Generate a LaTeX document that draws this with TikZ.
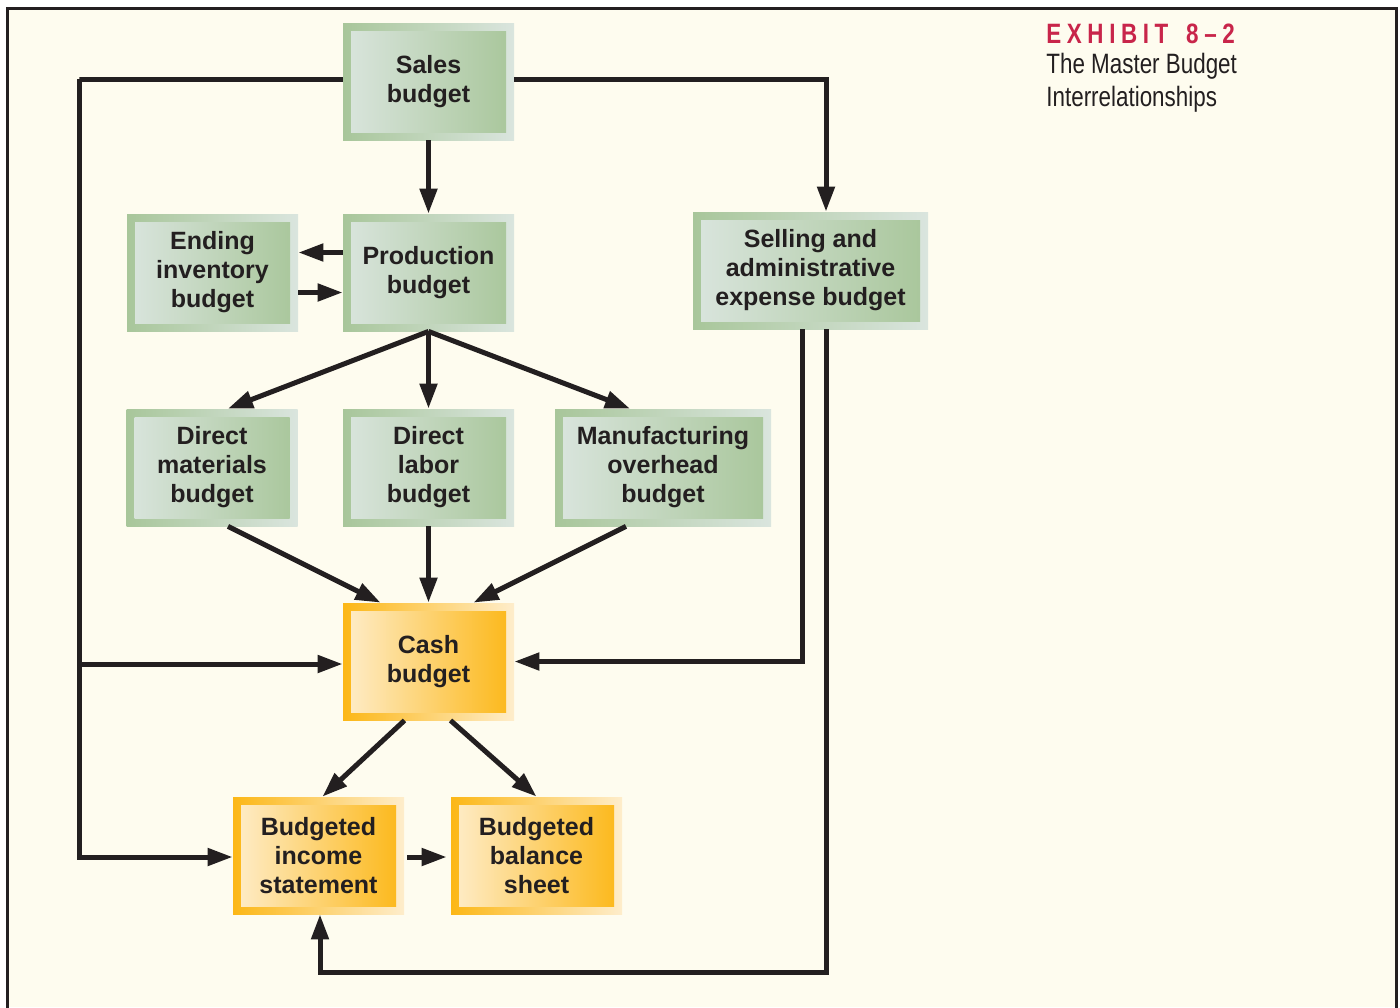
\documentclass[tikz,border=0pt]{standalone}
\usepackage{fontspec}
\setmainfont{Liberation Sans}
\newfontfamily\exfont[FakeStretch=0.8]{Liberation Sans}
\usepackage{xcolor}
\usetikzlibrary{arrows.meta,positioning,calc}

\definecolor{ink}{HTML}{231F20}
\definecolor{paper}{HTML}{FEFCEF}
\definecolor{gdark}{HTML}{A8C69A}
\definecolor{glight}{HTML}{DAE5DE}
\definecolor{odark}{HTML}{FCB716}
\definecolor{olight}{HTML}{FEEDCB}
\definecolor{exred}{HTML}{C8254A}

\begin{document}
\begin{tikzpicture}[x=0.5pt,y=-0.5pt,
    box/.style={rectangle,inner sep=0pt,minimum width=85.5pt,minimum height=58.5pt,
        align=center,text=ink,font=\bfseries\fontsize{12.5}{14.5}\selectfont},
    greenbox/.style={box,left color=gdark,right color=glight,
        path picture={\shade[left color=glight,right color=gdark]
            ($(path picture bounding box.south west)+(4pt,4pt)$) rectangle
            ($(path picture bounding box.north east)+(-4pt,-4pt)$);}},
    orangebox/.style={box,left color=odark,right color=olight,
        path picture={\shade[left color=olight,right color=odark]
            ($(path picture bounding box.south west)+(4pt,4pt)$) rectangle
            ($(path picture bounding box.north east)+(-4pt,-4pt)$);}},
    link/.style={line width=2.5pt,draw=ink,-{Triangle[length=12.5pt,width=8.5pt]}},
    plain/.style={line width=2.5pt,draw=ink}]
    \useasboundingbox (0,0) rectangle (1400,1007);

    % Page and frame
    \fill[paper] (7,8) rectangle (1396,1007);
    \draw[ink,line width=1.5pt] (7,1012) -- (7,8) -- (1396,8) -- (1396,1012);

    % Title
    \node[anchor=base west,inner sep=0pt,text=exred,
        font=\exfont\bfseries\fontsize{14}{16}\selectfont\addfontfeature{LetterSpace=20}]
        (exhibit) at (1046,43) {EXHIBIT\hspace{3pt} 8–2};
    \node[anchor=base west,inner sep=0pt,text=ink,align=left,
        font=\exfont\fontsize{14}{16.5}\selectfont]
        (caption) at (1046,106) {The Master Budget\\Interrelationships};

    % Budgets
    \node[greenbox] (sales) at (428.5,81.5) {Sales\\budget};
    \node[greenbox] (prod) at (428.5,272.5) {Production\\budget};
    \node[greenbox] (ending) at (212.5,272.5) {Ending\\inventory\\budget};
    \node[greenbox,minimum width=117.5pt] (selling) at (810.5,270.5) {Selling and\\administrative\\expense budget};
    \node[greenbox] (material) at (212,467.5) {Direct\\materials\\budget};
    \node[greenbox] (labor) at (428.5,467.5) {Direct\\labor\\budget};
    \node[greenbox,minimum width=108pt] (overhead) at (663,467.5) {Manufacturing\\overhead\\budget};

    % Cash and statements
    \node[orangebox] (cash) at (428.5,661.5) {Cash\\budget};
    \node[orangebox] (income) at (318.5,855.5) {Budgeted\\income\\statement};
    \node[orangebox] (balance) at (536.5,855.5) {Budgeted\\balance\\sheet};

    % Helper corners
    \coordinate (left) at (79,79);
    \coordinate (bottom) at (600,972);
    \coordinate (cashin) at ([yshift=-1.25pt]cash.west);

    % Sales flows
    \draw[link] (sales.south) -- (prod.north);
    \draw[link] ([yshift=1pt]sales.east) -| ([xshift=7.75pt]selling.north);
    \draw[link] ([yshift=1pt]sales.west) -| (left) |- ([yshift=-0.75pt]income.west);
    \draw[link] (left |- cashin) -- (cashin);

    % Production and ending inventory
    \draw[link] ([yshift=10pt]prod.west) -- ([yshift=10pt]ending.east);
    \draw[link] ([yshift=-10pt]ending.east) -- ([yshift=-10pt]prod.west);

    % Production to direct budgets
    \draw[link] (prod.south) -- ([xshift=8pt]material.north);
    \draw[link] (prod.south) -- (labor.north);
    \draw[link] (prod.south) -- ([xshift=-16.5pt]overhead.north);

    % Direct budgets to cash
    \draw[link] ([xshift=8pt]material.south) -- ([xshift=-24pt]cash.north);
    \draw[link] (labor.south) -- (cash.north);
    \draw[link] ([xshift=-18.5pt]overhead.south) -- ([xshift=22.5pt]cash.north);

    % Selling and administrative flows
    \draw[link] ([xshift=-4.25pt]selling.south) |- (cash.east);
    \draw[link] ([xshift=7.75pt]selling.south) |- (bottom) -| ([xshift=0.75pt]income.south);

    % Cash to statements
    \draw[link] ([xshift=-12pt]cash.south) -- ([xshift=2pt]income.north);
    \draw[link] ([xshift=11pt]cash.south) -- (balance.north);
    \draw[link,shorten <=1.5pt,shorten >=2pt] ([yshift=-0.75pt]income.east) -- ([yshift=-0.75pt]balance.west);
\end{tikzpicture}
\end{document}
